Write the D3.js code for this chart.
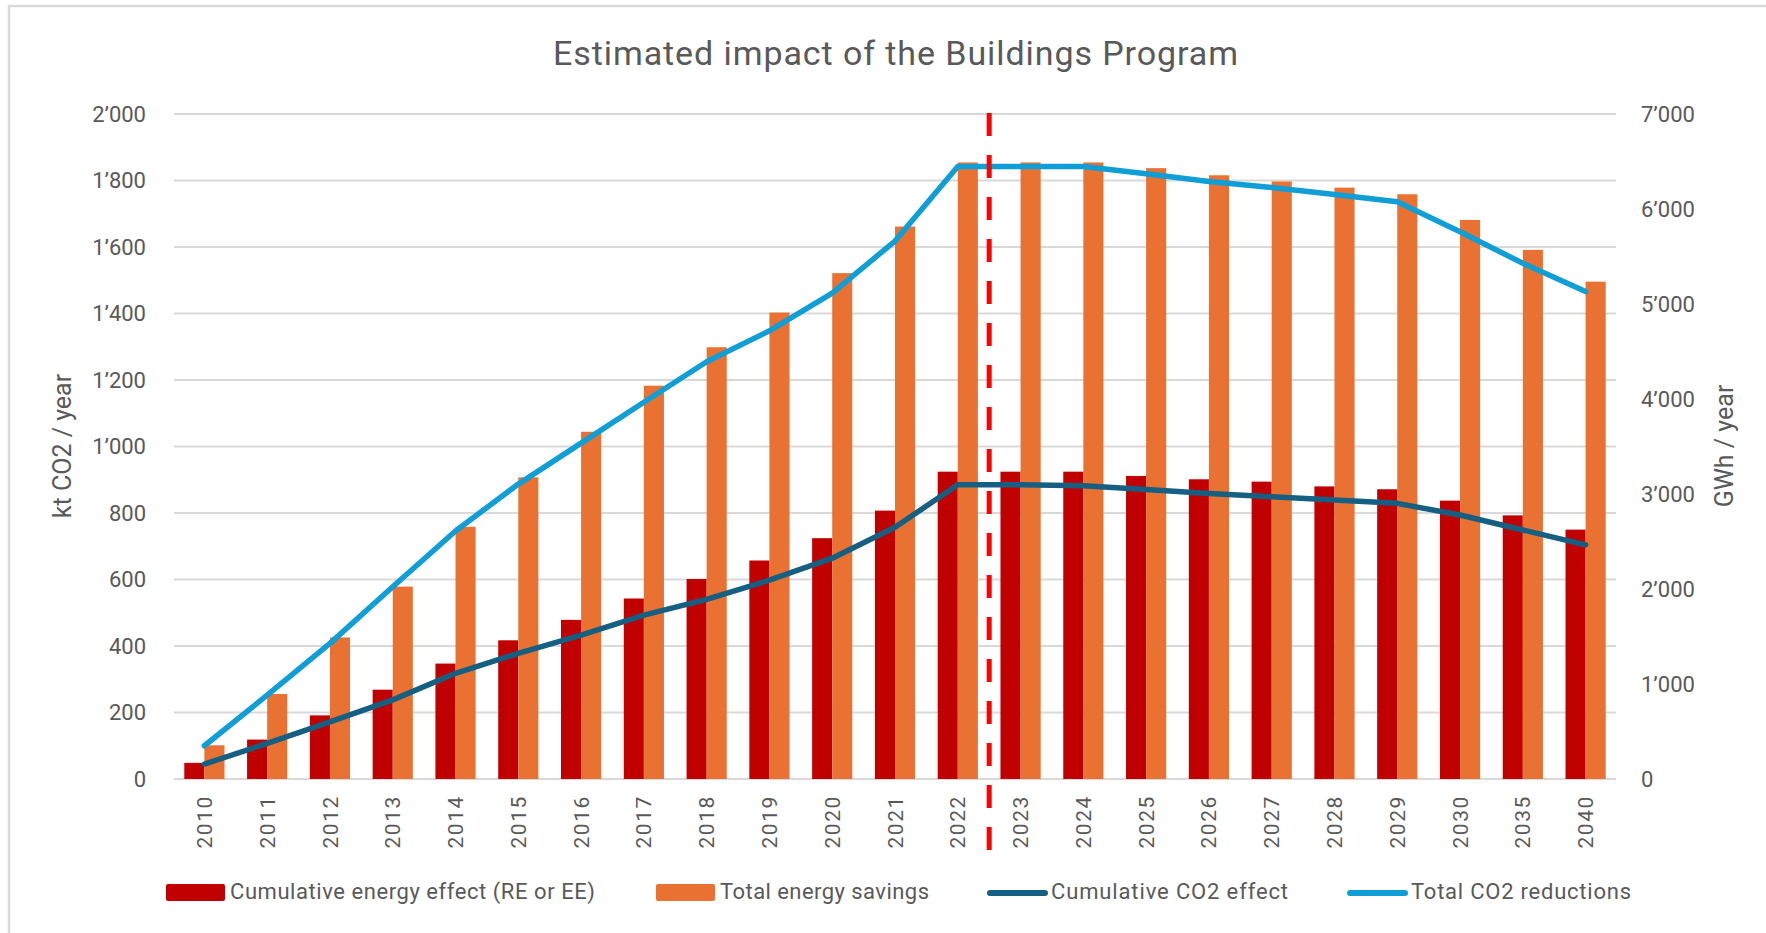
<!DOCTYPE html>
<html>
<head>
<meta charset="utf-8">
<script src="https://cdn.jsdelivr.net/npm/d3@7"></script>
<style>
  html, body { margin: 0; padding: 0; background: #fff; }
  svg { display: block; }
  text { font-family: Roboto, "Open Sans", sans-serif; fill: #595959; }
</style>
</head>
<body>
<svg id="chart" width="1766" height="933"></svg>
<script>
// ---- data ----
const years = ["2010","2011","2012","2013","2014","2015","2016","2017","2018","2019","2020","2021","2022","2023","2024","2025","2026","2027","2028","2029","2030","2035","2040"];
// GWh / year (right axis)
const cumulativeEnergyEffect = [170, 415, 670, 940, 1215, 1460, 1675, 1900, 2105, 2300, 2535, 2825, 3235, 3235, 3235, 3190, 3155, 3130, 3080, 3050, 2930, 2775, 2625];
const totalEnergySavings = [355, 895, 1490, 2025, 2655, 3175, 3655, 4140, 4545, 4910, 5325, 5815, 6490, 6490, 6490, 6430, 6355, 6290, 6225, 6155, 5885, 5570, 5235];
// kt CO2 / year (left axis)
const cumulativeCO2Effect = [45, 107, 172, 238, 318, 378, 433, 493, 540, 598, 664, 757, 885, 885, 882, 871, 859, 849, 839, 829, 794, 749, 704];
const totalCO2Reductions = [100, 252, 408, 578, 746, 887, 1010, 1133, 1255, 1348, 1461, 1618, 1842, 1842, 1842, 1820, 1797, 1779, 1758, 1736, 1646, 1551, 1466];
const leftTicks = [0, 200, 400, 600, 800, 1000, 1200, 1400, 1600, 1800, 2000];
const rightTicks = [0, 1000, 2000, 3000, 4000, 5000, 6000, 7000];
const dividerAfter = "2022";
const title = "Estimated impact of the Buildings Program";
const legendItems = [
  {label: "Cumulative energy effect (RE or EE)", type: "bar", color: "#C00000"},
  {label: "Total energy savings", type: "bar", color: "#E97132"},
  {label: "Cumulative CO2 effect", type: "line", color: "#156082"},
  {label: "Total CO2 reductions", type: "line", color: "#0F9ED5"}
];

// ---- layout ----
const svg = d3.select("#chart");
const plotLeft = 173, plotRight = 1617, plotTop = 114, plotBottom = 779;

svg.append("rect").attr("x", 9).attr("y", 6).attr("width", 1800).attr("height", 1000)
  .attr("fill", "#fff").attr("stroke", "#D9D9D9").attr("stroke-width", 2.5);

const fmt = d3.formatLocale({decimal: ".", thousands: "’", grouping: [3], currency: ["", ""]}).format(",");

const x = d3.scaleBand().domain(years).range([plotLeft, plotRight]).paddingInner(0.36).paddingOuter(0.18);
const xs = d3.scaleBand().domain(["e", "t"]).range([0, x.bandwidth()]);
const yL = d3.scaleLinear().domain([0, 2000]).range([plotBottom, plotTop]);
const yR = d3.scaleLinear().domain([0, 7000]).range([plotBottom, plotTop]);

// gridlines
svg.append("g").selectAll("line").data(leftTicks).join("line")
  .attr("x1", plotLeft + 1).attr("x2", plotRight - 1)
  .attr("y1", d => yL(d)).attr("y2", d => yL(d))
  .attr("stroke", "#D9D9D9").attr("stroke-width", 2);

// left axis
const gL = svg.append("g").attr("transform", `translate(${plotLeft},0)`)
  .call(d3.axisLeft(yL).tickValues(leftTicks).tickFormat(fmt).tickSize(0).tickPadding(27));
gL.select(".domain").remove();
gL.selectAll("text").attr("font-size", 22).attr("fill", "#595959").attr("font-family", "Roboto, sans-serif");

// right axis
const gR = svg.append("g").attr("transform", `translate(${plotRight},0)`)
  .call(d3.axisRight(yR).tickValues(rightTicks).tickFormat(fmt).tickSize(0).tickPadding(24));
gR.select(".domain").remove();
gR.selectAll("text").attr("font-size", 22).attr("fill", "#595959").attr("font-family", "Roboto, sans-serif");

// bottom axis
const gX = svg.append("g").attr("transform", `translate(0,${plotBottom})`)
  .call(d3.axisBottom(x).tickSize(0));
gX.select(".domain").remove();
gX.selectAll("text")
  .attr("transform", "rotate(-90)")
  .attr("x", -16).attr("y", 0).attr("dy", "0.36em")
  .attr("text-anchor", "end")
  .attr("font-size", 21).attr("letter-spacing", 1.6)
  .attr("fill", "#595959").attr("font-family", "Roboto, sans-serif");

// axis titles
svg.append("text").attr("transform", `translate(71,446) rotate(-90)`)
  .attr("text-anchor", "middle").attr("font-size", 25).text("kt CO2 / year");
svg.append("text").attr("transform", `translate(1733,446) rotate(-90)`)
  .attr("text-anchor", "middle").attr("font-size", 25).text("GWh / year");

// bars
const barsG = svg.append("g");
barsG.selectAll("rect.e").data(years).join("rect").attr("class", "e")
  .attr("x", d => x(d) + xs("e")).attr("width", xs.bandwidth())
  .attr("y", (d, i) => yR(cumulativeEnergyEffect[i]))
  .attr("height", (d, i) => yR(0) - yR(cumulativeEnergyEffect[i]))
  .attr("fill", "#C00000");
barsG.selectAll("rect.t").data(years).join("rect").attr("class", "t")
  .attr("x", d => x(d) + xs("t")).attr("width", xs.bandwidth())
  .attr("y", (d, i) => yR(totalEnergySavings[i]))
  .attr("height", (d, i) => yR(0) - yR(totalEnergySavings[i]))
  .attr("fill", "#E97132");

// lines
const cx = d => x(d) + x.bandwidth() / 2;
const lineGen = d3.line().x(d => cx(d[0])).y(d => yL(d[1]));
svg.append("path").datum(years.map((y, i) => [y, cumulativeCO2Effect[i]]))
  .attr("d", lineGen).attr("fill", "none").attr("stroke", "#156082")
  .attr("stroke-width", 5.5).attr("stroke-linejoin", "round").attr("stroke-linecap", "round");
svg.append("path").datum(years.map((y, i) => [y, totalCO2Reductions[i]]))
  .attr("d", lineGen).attr("fill", "none").attr("stroke", "#0F9ED5")
  .attr("stroke-width", 5.5).attr("stroke-linejoin", "round").attr("stroke-linecap", "round");

// divider (dashed)
const idx = years.indexOf(dividerAfter);
const xDiv = (x(years[idx]) + x.bandwidth() + x(years[idx + 1])) / 2;
svg.append("line").attr("x1", xDiv).attr("x2", xDiv).attr("y1", plotTop - 1).attr("y2", 852)
  .attr("stroke", "#FF0000").attr("stroke-width", 5).attr("stroke-dasharray", "23 19");

// title
svg.append("text").attr("x", 553).attr("y", 65).attr("font-size", 34)
  .attr("textLength", 685).attr("lengthAdjust", "spacing").text(title);

// legend
const legX = [166, 656, 987, 1347];
const legTextLen = [365, 209, 237, 220];
const legG = svg.append("g");
legendItems.forEach((it, i) => {
  const g = legG.append("g");
  if (it.type === "bar") {
    g.append("rect").attr("x", legX[i]).attr("y", 884).attr("width", 59).attr("height", 17)
      .attr("rx", 2).attr("fill", it.color);
  } else {
    g.append("line").attr("x1", legX[i] + 3).attr("x2", legX[i] + 58).attr("y1", 893).attr("y2", 893)
      .attr("stroke", it.color).attr("stroke-width", 6).attr("stroke-linecap", "round");
  }
  g.append("text").attr("x", legX[i] + 64).attr("y", 899).attr("font-size", 22)
    .attr("textLength", legTextLen[i]).attr("lengthAdjust", "spacing").text(it.label);
});
</script>
</body>
</html>
